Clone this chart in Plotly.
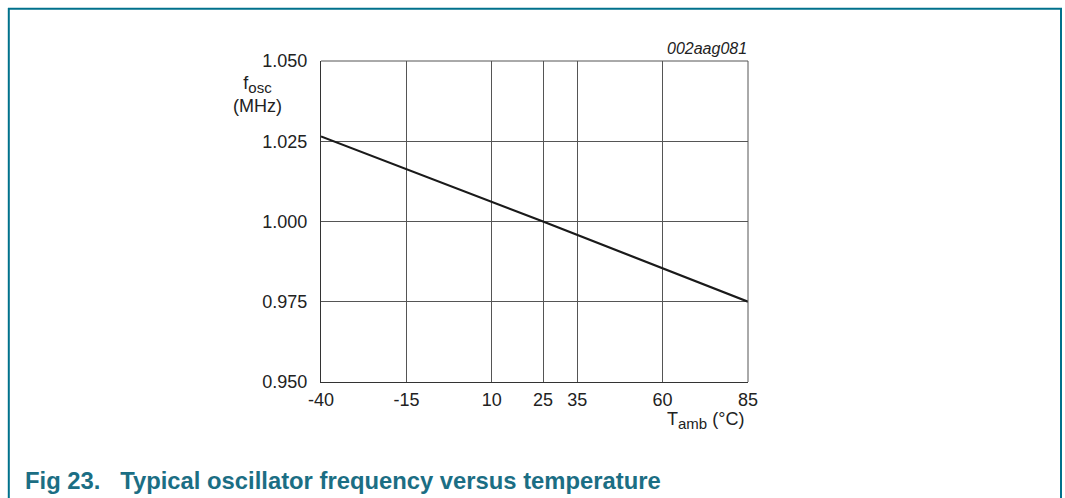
import plotly.graph_objects as go

temps = [-40, 25, 85]
freq = [1.0265, 1.000, 0.975]
x_ticks = [-40, -15, 10, 25, 35, 60, 85]
y_ticks = [0.950, 0.975, 1.000, 1.025, 1.050]
y_labels = ["0.950", "0.975", "1.000", "1.025", "1.050"]

W, H = 1065, 498
L, R, T, B = 321, 748, 61, 382

def px(xw):
    return (xw - L) / (R - L)

def py(yw):
    return (B - yw) / (B - T)

fig = go.Figure()
fig.add_trace(go.Scatter(x=temps, y=freq, mode="lines",
                         line=dict(color="#1a1a1a", width=2.2),
                         hoverinfo="skip", showlegend=False))

FAM = "Liberation Sans, Arial, sans-serif"
font = dict(family=FAM, size=18, color="#222222")
fig.update_layout(
    width=W, height=H,
    margin=dict(l=L, r=W - R, t=T, b=H - B),
    paper_bgcolor="white", plot_bgcolor="white",
    font=font,
    showlegend=False,
    xaxis=dict(range=[-40, 85], tickmode="array", tickvals=x_ticks,
               ticktext=[str(v) for v in x_ticks],
               showgrid=True, gridcolor="#555555", gridwidth=1,
               zeroline=False, showline=True, linecolor="#333333", linewidth=1.3,
               mirror=False, ticks="", tickfont=font, ticklabelstandoff=1),
    yaxis=dict(range=[0.950, 1.050], tickmode="array", tickvals=y_ticks,
               ticktext=y_labels,
               showgrid=True, gridcolor="#555555", gridwidth=1,
               zeroline=False, showline=True, linecolor="#333333", linewidth=1.3,
               mirror=False, ticks="", tickfont=font, ticklabelstandoff=9),
)

# top & right plot borders
fig.add_shape(type="line", xref="paper", yref="paper", x0=0, x1=1, y0=1, y1=1,
              line=dict(color="#555555", width=1))
fig.add_shape(type="line", xref="paper", yref="paper", x0=1, x1=1, y0=0, y1=1,
              line=dict(color="#555555", width=1))

# outer teal frame (left, top, right)
frame_col = "#00718c"
fig.add_shape(type="line", xref="paper", yref="paper", x0=px(8.8), x1=px(8.8),
              y0=py(8), y1=py(520), line=dict(color=frame_col, width=2))
fig.add_shape(type="line", xref="paper", yref="paper", x0=px(8), x1=px(1062),
              y0=py(8.8), y1=py(8.8), line=dict(color=frame_col, width=2))
fig.add_shape(type="line", xref="paper", yref="paper", x0=px(1061), x1=px(1061),
              y0=py(8), y1=py(520), line=dict(color=frame_col, width=2))

# axis titles
fig.add_annotation(xref="paper", yref="paper", x=px(257), y=py(94),
                   text="f<sub><span style='font-size:15px'>osc</span></sub><br>(MHz)",
                   showarrow=False, xanchor="center", yanchor="middle",
                   font=font, align="center")
fig.add_annotation(xref="paper", yref="paper", x=px(746), y=py(420),
                   text="T<sub><span style='font-size:15px'>amb</span></sub> (°C)",
                   showarrow=False, xanchor="right", yanchor="middle", font=font)
fig.add_annotation(xref="paper", yref="paper", x=px(749), y=py(48),
                   text="<i>002aag081</i>", showarrow=False,
                   xanchor="right", yanchor="middle",
                   font=dict(family=FAM, size=16, color="#222222"))

# caption
fig.add_annotation(xref="paper", yref="paper", x=px(23), y=py(480),
                   text="<b>Fig 23.\u00a0\u00a0\u00a0Typical oscillator frequency versus temperature</b>",
                   showarrow=False, xanchor="left", yanchor="middle",
                   font=dict(family=FAM, size=23.8, color="#1b6e84"))

fig.write_html("out.html",
               config={"displayModeBar": False},
               post_script="document.body.style.margin='0';document.body.style.overflow='hidden';")
